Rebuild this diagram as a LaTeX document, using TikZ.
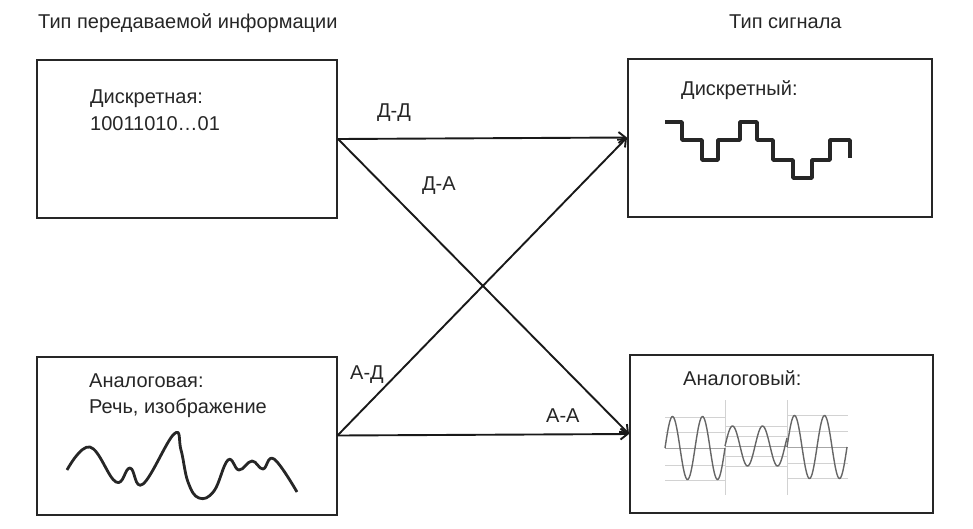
\documentclass[tikz,border=0pt]{standalone}
\usepackage{fontspec}
\setmainfont{Liberation Sans}
\usetikzlibrary{arrows.meta}

\begin{document}
\begin{tikzpicture}[x=1pt,y=-1pt,
    box/.style={draw=black!85, line width=2pt, minimum width=300pt, minimum height=158pt, inner sep=0pt},
    txt/.style={anchor=base west, inner sep=0pt, font=\fontsize{20}{24}\selectfont, text=black!85},
    link/.style={line width=1.9pt, black!90, -{Straight Barb[length=7pt,width=11pt]}},
    wave/.style={line width=3.5pt, black!85, line join=round},
    gridline/.style={gray!35, line width=0.6pt},
    sine/.style={black!60, line width=1.4pt}]
    \useasboundingbox (0,0) rectangle (973,528);

    \node[txt] (titleInf) at (38,28) {Тип передаваемой информации};
    \node[txt] (titleSig) at (729,28) {Тип сигнала};

    \node[box] (infD) at (187,139) {};
    \node[box, minimum width=304pt] (sigD) at (780,137.5) {};
    \node[box] (infA) at (186.5,435.5) {};
    \node[box, minimum width=303pt] (sigA) at (781.5,434) {};

    \node[txt] (infDname) at (90,103) {Дискретная:};
    \node[txt] (infDcode) at (90,130) {10011010…01};
    \node[txt] (sigDname) at (681,95) {Дискретный:};
    \node[txt] (infAname) at (89,387) {Аналоговая:};
    \node[txt] (infAkind) at (89,413) {Речь, изображение};
    \node[txt] (sigAname) at (683,385) {Аналоговый:};

    % discrete signal
    \draw[wave, line cap=butt] (665,122) -| (682,140) -| (702,160) -| (718,140) -| (740,122) -| (757,140)
      -| (773,160) -| (793,178) -| (812,160) -| (830,140) -| (850,158);

    % analog signal
    \foreach \y in {417,432,465,480} \draw[gridline] (665,\y) -- (725,\y);
    \foreach \y in {426,436,456,466} \draw[gridline] (725,\y) -- (787,\y);
    \foreach \y in {415,431,463,478} \draw[gridline] (787,\y) -- (848,\y);
    \foreach \x in {725,787} \draw[gridline] (\x,400) -- (\x,495);
    \draw[gray!70, line width=0.8pt] (665,448) -- (725,448);
    \draw[gray!70, line width=0.8pt] (725,446) -- (787,446);
    \draw[gray!70, line width=0.8pt] (787,447) -- (848,447);
    \draw[sine] plot[domain=0:60, samples=80, smooth] ({665+\x},{448-31.5*sin(12*\x)});
    \draw[sine] plot[domain=0:62, samples=80, smooth] ({725+\x},{446-20*sin(12*\x)});
    \draw[sine] plot[domain=0:60, samples=80, smooth] ({787+\x},{447-31.5*sin(12*\x)});

    % speech
    \draw[wave, line width=2.8pt] plot[smooth, tension=0.7] coordinates {(67,470) (90,447) (116,482) (130,468)
      (143,484) (174,434) (181,450) (188,482) (199,498) (214,491) (228,460) (239,470) (252,461)
      (263,469) (274,459) (297,492)};

    \draw[link] (infD.east) -- (sigD.west);
    \draw[link] (infD.east) -- (sigA.west);
    \draw[link] (infA.east) -- (sigD.west);
    \draw[link] (infA.east) -- (sigA.west);

    \node[txt] (lblDD) at (377,117) {Д-Д};
    \node[txt] (lblDA) at (422,190) {Д-А};
    \node[txt] (lblAD) at (350,379) {А-Д};
    \node[txt] (lblAA) at (546,422) {А-А};
\end{tikzpicture}
\end{document}
